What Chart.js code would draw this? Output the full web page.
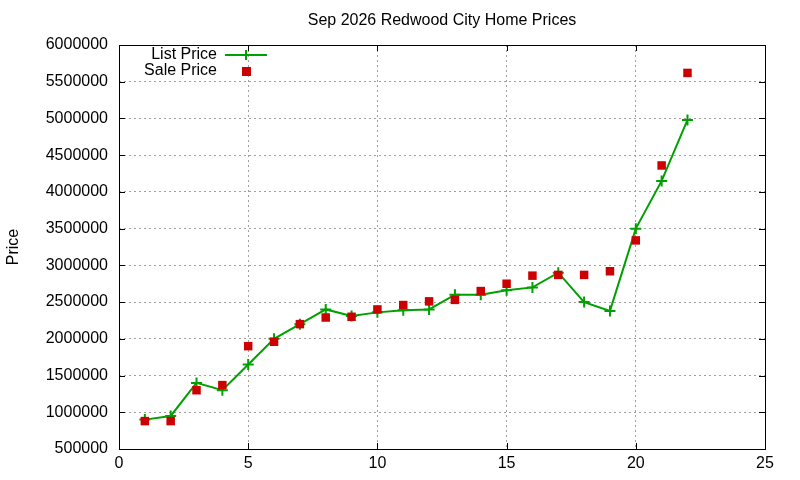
<!DOCTYPE html>
<html lang="en">
<head>
    <meta charset="UTF-8">
    <title>Sep 2026 Redwood City Home Prices</title>
    <script src="https://cdn.jsdelivr.net/npm/chart.js"></script>
    <style>
        html, body { margin: 0; padding: 0; background: #fff; }
        #wrap { width: 800px; height: 480px; }
    </style>
</head>
<body>
    <div id="wrap"><canvas id="grafico" width="800" height="480"></canvas></div>

    <script>
        // data
        const dias = [1, 2, 3, 4, 5, 6, 7, 8, 9, 10, 11, 12, 13, 14, 15, 16, 17, 18, 19, 20, 21, 22];
        const precioLista = [900000, 950000, 1400000, 1300000, 1650000, 2000000, 2200000, 2400000, 2310000, 2360000, 2390000,
                             2400000, 2600000, 2600000, 2660000, 2700000, 2900000, 2500000, 2380000, 3500000, 4150000, 4980000];
        const precioVenta = [880000, 880000, 1300000, 1370000, 1900000, 1960000, 2200000, 2290000, 2300000, 2400000, 2460000,
                             2510000, 2530000, 2650000, 2750000, 2860000, 2870000, 2870000, 2920000, 3340000, 4360000, 5620000];

        const titulo = 'Sep 2026 Redwood City Home Prices';
        const fuente = '"Liberation Sans", Arial, sans-serif';
        const verde = '#00a000';
        const rojo = '#cc0000';

        const puntos = (ys) => dias.map((d, i) => ({ x: d, y: ys[i] }));

        // border box, inner ticks, title and the gnuplot style legend
        const marco = {
            id: 'marco',
            afterDraw(chart) {
                const ctx = chart.ctx;
                const a = chart.chartArea;
                const sx = chart.scales.x, sy = chart.scales.y;
                ctx.save();
                ctx.strokeStyle = '#000';
                ctx.lineWidth = 1;
                ctx.beginPath();
                sy.ticks.forEach(t => {
                    const p = Math.round(sy.getPixelForValue(t.value)) + 0.5;
                    ctx.moveTo(a.left, p); ctx.lineTo(a.left + 6, p);
                    ctx.moveTo(a.right, p); ctx.lineTo(a.right - 6, p);
                });
                sx.ticks.forEach(t => {
                    const p = Math.round(sx.getPixelForValue(t.value)) + 0.5;
                    ctx.moveTo(p, a.bottom); ctx.lineTo(p, a.bottom - 6);
                    ctx.moveTo(p, a.top); ctx.lineTo(p, a.top + 6);
                });
                ctx.stroke();
                ctx.strokeRect(Math.round(a.left) + 0.5, Math.round(a.top) + 0.5,
                               Math.round(a.right - a.left), Math.round(a.bottom - a.top));

                ctx.fillStyle = '#000';
                ctx.font = '16px ' + fuente;
                ctx.textAlign = 'center';
                ctx.textBaseline = 'middle';
                ctx.fillText(titulo, (a.left + a.right) / 2, 21);

                // legend
                const ds = chart.data.datasets;
                ctx.textAlign = 'right';
                ctx.fillText(ds[0].label, 217, 55);
                ctx.fillText(ds[1].label, 217, 71);
                ctx.strokeStyle = verde;
                ctx.lineWidth = 2;
                ctx.beginPath();
                ctx.moveTo(225, 55); ctx.lineTo(267, 55);
                ctx.moveTo(246, 50); ctx.lineTo(246, 60);
                ctx.stroke();
                ctx.fillStyle = rojo;
                ctx.fillRect(242, 67, 9, 9);
                ctx.restore();
            }
        };

        const ctx = document.getElementById('grafico').getContext('2d');
        const grafico = new Chart(ctx, {
            type: 'scatter',
            data: {
                datasets: [{
                    label: 'List Price',
                    data: puntos(precioLista),
                    showLine: true,
                    borderColor: verde,
                    backgroundColor: verde,
                    borderWidth: 2,
                    pointStyle: 'cross',
                    pointRadius: 5.5,
                    pointHoverRadius: 5.5,
                    pointBorderWidth: 2,
                    order: 2
                }, {
                    label: 'Sale Price',
                    data: puntos(precioVenta),
                    showLine: false,
                    borderColor: rojo,
                    backgroundColor: rojo,
                    pointStyle: 'rect',
                    pointRadius: 6,
                    pointHoverRadius: 6,
                    pointBorderWidth: 0,
                    order: 1
                }]
            },
            options: {
                responsive: false,
                animation: false,
                layout: { padding: { top: 45, right: 35, left: 0, bottom: 0 } },
                plugins: {
                    legend: { display: false },
                    title: { display: false },
                    tooltip: { enabled: false }
                },
                scales: {
                    x: {
                        type: 'linear',
                        min: 0,
                        max: 25,
                        ticks: { stepSize: 5, color: '#000', padding: 5, font: { family: fuente, size: 16 } },
                        grid: { color: '#a0a0a0', drawTicks: false },
                        border: { display: false, dash: [2, 3] },
                        afterFit(s) { s.height = 31; }
                    },
                    y: {
                        min: 500000,
                        max: 6000000,
                        ticks: {
                            stepSize: 500000,
                            color: '#000',
                            padding: 11,
                            font: { family: fuente, size: 16 },
                            callback: v => String(v)
                        },
                        grid: { color: '#a0a0a0', drawTicks: false },
                        border: { display: false, dash: [2, 3] },
                        title: { display: true, text: 'Price', color: '#000', padding: { top: 4, bottom: 0 }, font: { family: fuente, size: 16 } },
                        afterFit(s) { s.width = 119; }
                    }
                }
            },
            plugins: [marco]
        });
    </script>
</body>
</html>
